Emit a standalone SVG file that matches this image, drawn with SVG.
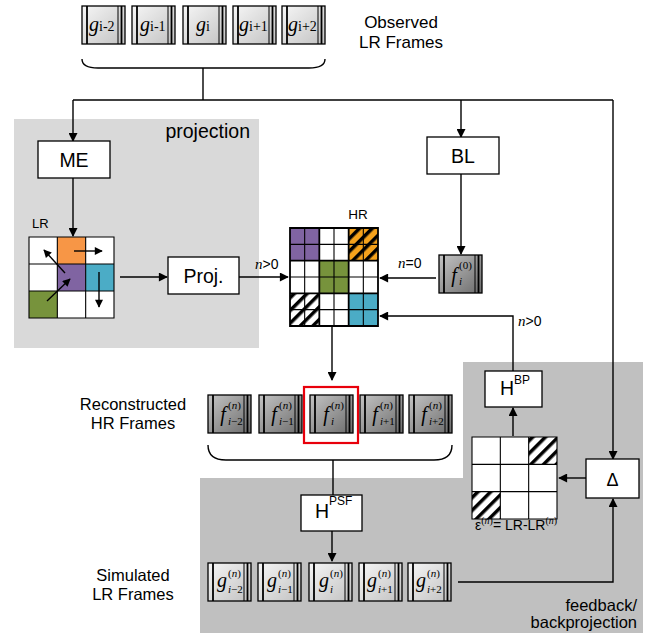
<svg xmlns="http://www.w3.org/2000/svg" xmlns:xlink="http://www.w3.org/1999/xlink" width="657" height="633" viewBox="0 0 657 633">
<style>
.box{fill:#fff;stroke:#000;stroke-width:1.3}
.ln{fill:none;stroke:#000;stroke-width:1.4}
.arr{fill:none;stroke:#000;stroke-width:1.4;marker-end:url(#ah)}
.sarr{fill:none;stroke:#000;stroke-width:1.4;marker-end:url(#sah)}
.sans{font-family:"Liberation Sans",Arial,sans-serif;fill:#000}
.serif{font-family:"Liberation Serif","Times New Roman",serif;fill:#000}
.it{font-style:italic}
.grid{fill:none;stroke:#000;stroke-width:1.1}
.gridb{fill:none;stroke:#000;stroke-width:1.8}
</style>
<defs>
<marker id="ah" viewBox="0 0 10 10" refX="9" refY="5" markerWidth="10" markerHeight="9" markerUnits="userSpaceOnUse" orient="auto"><path d="M0,0 L10,5 L0,10 z" fill="#000"/></marker>
<marker id="sah" viewBox="0 0 10 10" refX="9" refY="5" markerWidth="9" markerHeight="8" markerUnits="userSpaceOnUse" orient="auto"><path d="M0,0 L10,5 L0,10 z" fill="#000"/></marker>
<linearGradient id="gLight" x1="0" y1="0" x2="1" y2="1"><stop offset="0" stop-color="#f6f6f6"/><stop offset="1" stop-color="#c2c2c2"/></linearGradient>
<linearGradient id="gDark" x1="0" y1="0" x2="1" y2="1"><stop offset="0" stop-color="#c4c4c4"/><stop offset="1" stop-color="#6c6c6c"/></linearGradient>
<pattern id="hatchW" width="9" height="9" patternUnits="userSpaceOnUse" patternTransform="rotate(45)"><rect width="9" height="9" fill="#fff"/><rect width="3.5" height="9" fill="#000"/></pattern>
<pattern id="hatchO" width="9" height="9" patternUnits="userSpaceOnUse" patternTransform="rotate(45)"><rect width="9" height="9" fill="#F5A21C"/><rect width="3.5" height="9" fill="#000"/></pattern>
<g id="gframe">
<rect x="0" y="0" width="43" height="38" fill="url(#gLight)" stroke="#000" stroke-width="1.3"/>
<line x1="5" y1="0" x2="5" y2="38" stroke="#000" stroke-width="1.8"/>
<line x1="36" y1="0" x2="36" y2="38" stroke="#000" stroke-width="1"/>
<line x1="39.5" y1="0" x2="39.5" y2="38" stroke="#000" stroke-width="1.8"/>
</g>
<g id="fframe">
<rect x="0" y="0" width="43" height="38" fill="url(#gDark)" stroke="#000" stroke-width="1.3"/>
<line x1="5" y1="0" x2="5" y2="38" stroke="#000" stroke-width="1.8"/>
<line x1="36" y1="0" x2="36" y2="38" stroke="#000" stroke-width="1"/>
<line x1="39.5" y1="0" x2="39.5" y2="38" stroke="#000" stroke-width="1.8"/>
</g>
</defs>

<!-- background regions -->
<rect id="projection-region" x="14" y="119" width="245" height="229" fill="#D9D9D9"/>
<polygon id="feedback-region" points="463,362 643,362 643,633 200,633 200,478 463,478" fill="#C0C0C0"/>
<text class="sans" x="250" y="138" font-size="19.5" text-anchor="end">projection</text>
<text class="sans" x="637" y="611" font-size="16.5" text-anchor="end">feedback/</text>
<text class="sans" x="637" y="628" font-size="16.5" text-anchor="end">backprojection</text>

<!-- connectors -->
<g id="connectors">
<path class="ln" d="M82,59 C82,66 88,68 98,68 H309 C319,68 325,66 325,59"/>
<path class="ln" d="M203,68 V100"/>
<path class="ln" d="M73,100 H613"/>
<path class="arr" d="M73,100 V141"/>
<path class="arr" d="M461,100 V137"/>
<path class="arr" d="M613,100 V459"/>
<path class="arr" d="M73,178 V236"/>
<path class="arr" d="M120,277 H167"/>
<path class="arr" d="M239,277 H288"/>
<path class="arr" d="M461,174 V254"/>
<path class="arr" d="M436,278 H380"/>
<path class="arr" d="M513,371 V316 H380"/>
<path class="arr" d="M332,326 V380"/>
<path class="ln" d="M208,445 C208,455 214,460 226,460 H434 C446,460 452,455 452,445"/>
<path class="ln" d="M333,460 V495"/>
<path class="arr" d="M332,531 V561"/>
<path class="arr" d="M458,582 H613 V499"/>
<path class="arr" d="M586,478 H559"/>
<path class="arr" d="M513,436 V408"/>
<text class="serif it" x="255" y="269" font-size="15">n<tspan class="sans" font-style="normal" font-size="14">&gt;0</tspan></text>
<text class="serif it" x="398" y="268" font-size="15">n<tspan class="sans" font-style="normal" font-size="14">=0</tspan></text>
<text class="serif it" x="518" y="326" font-size="15">n<tspan class="sans" font-style="normal" font-size="14">&gt;0</tspan></text>
</g>

<!-- observed LR frames -->
<g id="observed-frames">
<use href="#gframe" x="82" y="6"/>
<use href="#gframe" x="132" y="6"/>
<use href="#gframe" x="183" y="6"/>
<use href="#gframe" x="233" y="6"/>
<use href="#gframe" x="282" y="6"/>
<text class="serif" x="89" y="31" font-size="20"><tspan class="it">g</tspan><tspan font-size="14">i-2</tspan></text>
<text class="serif" x="140" y="31" font-size="20"><tspan class="it">g</tspan><tspan font-size="14">i-1</tspan></text>
<text class="serif" x="196" y="31" font-size="20"><tspan class="it">g</tspan><tspan font-size="14">i</tspan></text>
<text class="serif" x="239" y="31" font-size="20"><tspan class="it">g</tspan><tspan font-size="14">i+1</tspan></text>
<text class="serif" x="288" y="31" font-size="20"><tspan class="it">g</tspan><tspan font-size="14">i+2</tspan></text>
<text class="sans" x="401" y="28" font-size="17" text-anchor="middle">Observed</text>
<text class="sans" x="401" y="48" font-size="17" text-anchor="middle">LR Frames</text>
</g>

<g id="ME">
<rect class="box" x="38" y="141" width="72" height="37"/>
<text class="sans" x="74" y="167" font-size="19.5" text-anchor="middle">ME</text>
</g>

<g id="BL">
<rect class="box" x="427" y="137" width="72" height="37"/>
<text class="sans" x="463" y="163" font-size="19.5" text-anchor="middle">BL</text>
</g>

<g id="LR-grid">
<text class="sans" x="32" y="228" font-size="13">LR</text>
<rect x="29" y="237" width="85" height="81" fill="#fff"/>
<rect x="57.33" y="237" width="28.33" height="27" fill="#F79646"/>
<rect x="57.33" y="264" width="28.33" height="27" fill="#8064A2"/>
<rect x="85.67" y="264" width="28.33" height="27" fill="#4BACC6"/>
<rect x="29" y="291" width="28.33" height="27" fill="#77933C"/>
<path class="grid" stroke-width="1.3" d="M29,237 H114 V318 H29 Z M57.33,237 V318 M85.67,237 V318 M29,264 H114 M29,291 H114"/>
<path class="sarr" d="M74,251 H102"/>
<path class="sarr" d="M65,273 L44,250"/>
<path class="sarr" d="M47,301 L70,279"/>
<path class="sarr" d="M99,272 V307"/>
</g>

<g id="Proj">
<rect class="box" x="168" y="257" width="71" height="37"/>
<text class="sans" x="203.5" y="283" font-size="19.5" text-anchor="middle">Proj.</text>
</g>

<g id="HR-grid">
<text class="sans" x="358" y="219" font-size="13.5" text-anchor="middle">HR</text>
<rect x="290" y="228" width="88" height="98" fill="#fff"/>
<rect x="290" y="228" width="29.33" height="32.67" fill="#8064A2"/>
<rect x="348.67" y="228" width="29.33" height="32.67" fill="url(#hatchO)"/>
<rect x="319.33" y="260.67" width="29.33" height="32.67" fill="#77933C"/>
<rect x="290" y="293.33" width="29.33" height="32.67" fill="url(#hatchW)"/>
<rect x="348.67" y="293.33" width="29.33" height="32.67" fill="#4BACC6"/>
<path class="grid" d="M304.67,228 V326 M334,228 V326 M363.33,228 V326 M290,244.33 H378 M290,277 H378 M290,309.67 H378"/>
<path class="gridb" d="M290,228 H378 V326 H290 Z M319.33,228 V326 M348.67,228 V326 M290,260.67 H378 M290,293.33 H378"/>
</g>

<g id="f0-frame">
<use href="#fframe" x="439" y="255"/>
<text class="serif it" x="454" y="282" font-size="20" text-anchor="middle">f</text>
<text class="serif" x="459" y="269" font-size="11">(0)</text>
<text class="serif it" x="459" y="285" font-size="11">i</text>
</g>

<g id="reconstructed-frames">
<text class="sans" x="133" y="410" font-size="16.5" text-anchor="middle">Reconstructed</text>
<text class="sans" x="133" y="429" font-size="16.5" text-anchor="middle">HR Frames</text>
<use href="#fframe" x="208" y="395"/>
<use href="#fframe" x="259" y="395"/>
<use href="#fframe" x="310" y="395"/>
<use href="#fframe" x="360" y="395"/>
<use href="#fframe" x="409" y="395"/>
<g class="serif">
<text class="it" x="223" y="421" font-size="20" text-anchor="middle">f</text>
<text x="228" y="409" font-size="11">(<tspan class="it">n</tspan>)</text>
<text x="228" y="425" font-size="11"><tspan class="it">i</tspan>−2</text>
<text class="it" x="274" y="421" font-size="20" text-anchor="middle">f</text>
<text x="279" y="409" font-size="11">(<tspan class="it">n</tspan>)</text>
<text x="279" y="425" font-size="11"><tspan class="it">i</tspan>−1</text>
<text class="it" x="326" y="421" font-size="20" text-anchor="middle">f</text>
<text x="331" y="409" font-size="11">(<tspan class="it">n</tspan>)</text>
<text x="331" y="425" font-size="11"><tspan class="it">i</tspan></text>
<text class="it" x="375" y="421" font-size="20" text-anchor="middle">f</text>
<text x="380" y="409" font-size="11">(<tspan class="it">n</tspan>)</text>
<text x="380" y="425" font-size="11"><tspan class="it">i</tspan>+1</text>
<text class="it" x="424" y="421" font-size="20" text-anchor="middle">f</text>
<text x="429" y="409" font-size="11">(<tspan class="it">n</tspan>)</text>
<text x="429" y="425" font-size="11"><tspan class="it">i</tspan>+2</text>
</g>
<rect x="304" y="387" width="54" height="56" fill="none" stroke="#E8000B" stroke-width="2.2"/>
</g>

<g id="HPSF">
<rect class="box" x="301" y="495" width="61" height="36"/>
<text class="sans" x="315" y="518" font-size="19.5">H</text>
<text class="sans" x="329" y="505" font-size="12">PSF</text>
</g>

<g id="simulated-frames">
<text class="sans" x="133" y="581" font-size="16.5" text-anchor="middle">Simulated</text>
<text class="sans" x="133" y="600" font-size="16.5" text-anchor="middle">LR Frames</text>
<use href="#gframe" x="208" y="563"/>
<use href="#gframe" x="258" y="563"/>
<use href="#gframe" x="309" y="563"/>
<use href="#gframe" x="359" y="563"/>
<use href="#gframe" x="408" y="563"/>
<g class="serif">
<text class="it" x="222" y="587" font-size="20" text-anchor="middle">g</text>
<text x="228" y="577" font-size="11">(<tspan class="it">n</tspan>)</text>
<text x="228" y="593" font-size="11"><tspan class="it">i</tspan>−2</text>
<text class="it" x="272" y="587" font-size="20" text-anchor="middle">g</text>
<text x="278" y="577" font-size="11">(<tspan class="it">n</tspan>)</text>
<text x="278" y="593" font-size="11"><tspan class="it">i</tspan>−1</text>
<text class="it" x="324" y="587" font-size="20" text-anchor="middle">g</text>
<text x="330" y="577" font-size="11">(<tspan class="it">n</tspan>)</text>
<text x="330" y="593" font-size="11"><tspan class="it">i</tspan></text>
<text class="it" x="372" y="587" font-size="20" text-anchor="middle">g</text>
<text x="378" y="577" font-size="11">(<tspan class="it">n</tspan>)</text>
<text x="378" y="593" font-size="11"><tspan class="it">i</tspan>+1</text>
<text class="it" x="421" y="587" font-size="20" text-anchor="middle">g</text>
<text x="427" y="577" font-size="11">(<tspan class="it">n</tspan>)</text>
<text x="427" y="593" font-size="11"><tspan class="it">i</tspan>+2</text>
</g>
</g>

<g id="HBP">
<rect class="box" x="485" y="371" width="57" height="36"/>
<text class="sans" x="500" y="395" font-size="19.5">H</text>
<text class="sans" x="514" y="384" font-size="12">BP</text>
</g>

<g id="error-grid">
<rect x="472" y="437" width="85" height="82" fill="#fff"/>
<rect x="528.67" y="437" width="28.33" height="27.33" fill="url(#hatchW)"/>
<rect x="472" y="491.67" width="28.33" height="27.33" fill="url(#hatchW)"/>
<path class="grid" stroke-width="1.4" d="M472,437 H557 V519 H472 Z M500.33,437 V519 M528.67,437 V519 M472,464.33 H557 M472,491.67 H557"/>
<text class="sans" x="475" y="530" font-size="14">ε<tspan class="serif" font-size="10" dy="-6">(<tspan class="it">n</tspan>)</tspan><tspan dy="6">= LR-LR</tspan><tspan class="serif" font-size="10" dy="-6">(<tspan class="it">n</tspan>)</tspan></text>
</g>

<g id="Delta">
<rect class="box" x="586" y="459" width="53" height="39"/>
<text class="sans" x="612.5" y="486" font-size="18" text-anchor="middle">Δ</text>
</g>
</svg>
